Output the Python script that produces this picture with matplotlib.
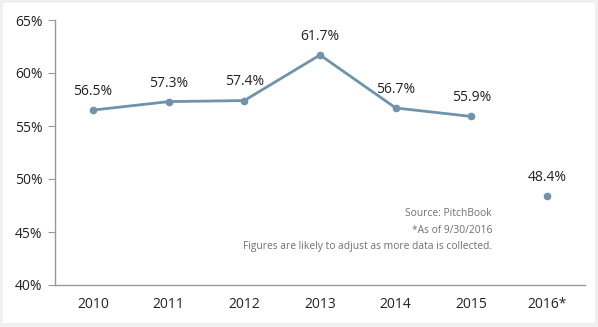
import matplotlib.pyplot as plt
from matplotlib.patches import Rectangle
import numpy as np

years = ["2010", "2011", "2012", "2013", "2014", "2015", "2016*"]
rates = [56.5, 57.3, 57.4, 61.7, 56.7, 55.9, 48.4]
labels = ["56.5%", "57.3%", "57.4%", "61.7%", "56.7%", "55.9%", "48.4%"]
yticks = [40, 45, 50, 55, 60, 65]

line_col = "#6f93aa"
plt.rcParams['font.family'] = ['Open Sans', 'DejaVu Sans']

fig = plt.figure(figsize=(5.98, 3.27), dpi=100, facecolor="#f0f0f0")
fig.patches.append(Rectangle((3/598, 4/327), 592/598, 320/327, transform=fig.transFigure,
                             facecolor="white", edgecolor="none", zorder=-5))
ax = fig.add_axes([55/598, 42/327, 530/598, 265/327])
ax.set_facecolor("none")
ax.set_zorder(2)

x = np.arange(len(years))
ax.plot(x[:6], rates[:6], color=line_col, lw=2, marker="o", ms=4.5)
ax.plot(x[6:], rates[6:], color=line_col, lw=0, marker="o", ms=4.5)

for xi, v, lab in zip(x, rates, labels):
    ax.annotate(lab, (xi, v), xytext=(0, 8), textcoords="offset points",
                ha="center", va="bottom", fontsize=10, color="#222222")

ax.set_xlim(-0.5, 6.5)
ax.set_ylim(40, 65)
ax.set_yticks(yticks)
ax.set_yticklabels([f"{t}%" for t in yticks])
ax.set_xticks(x)
ax.set_xticklabels(years)
ax.tick_params(axis="y", length=5, color="#999999", labelsize=10, labelcolor="#222222", pad=4)
ax.tick_params(axis="x", length=0, labelsize=10, labelcolor="#222222", pad=9)
for s in ["top", "right"]:
    ax.spines[s].set_visible(False)
for s in ["left", "bottom"]:
    ax.spines[s].set_color("#999999")
    ax.spines[s].set_linewidth(1)

note = "Source: PitchBook\n*As of 9/30/2016\nFigures are likely to adjust as more data is collected."
fig.text(492/598, 1 - 208/327, note, ha="right", va="top", fontsize=7.4,
         color="#707070", linespacing=1.7)

fig.savefig("out.png", dpi=100, facecolor=fig.get_facecolor())
